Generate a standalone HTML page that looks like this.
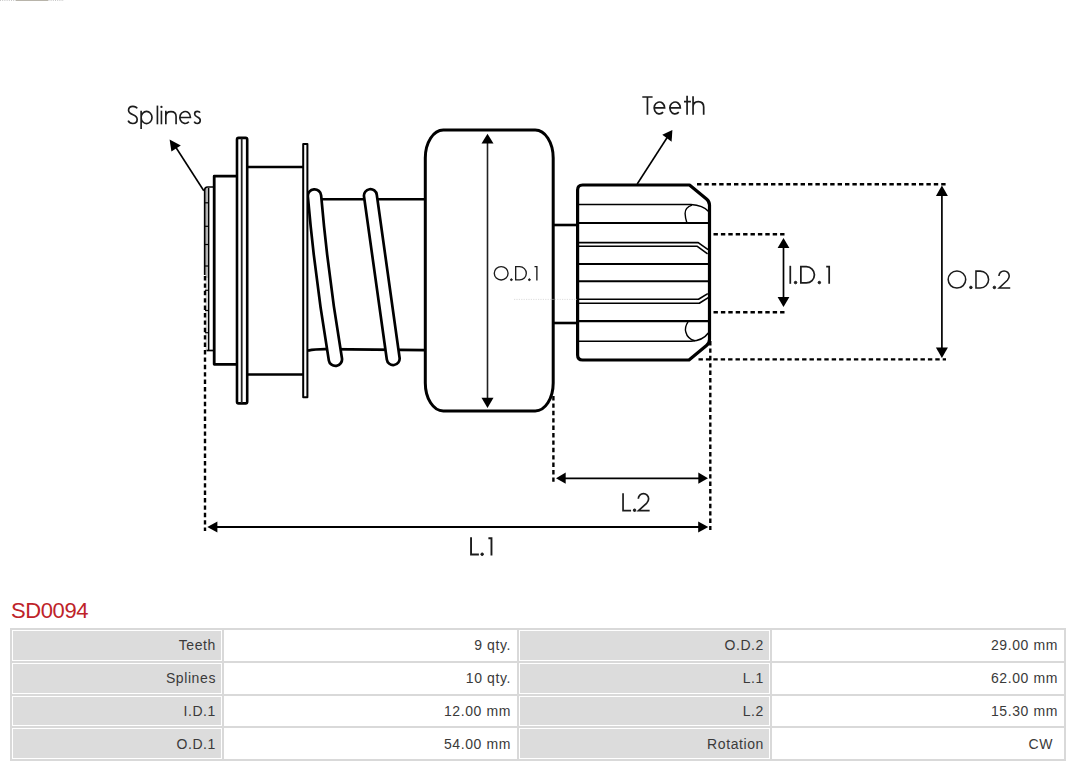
<!DOCTYPE html>
<html><head><meta charset="utf-8">
<style>
html,body{margin:0;padding:0;background:#fff;width:1080px;height:767px;overflow:hidden;}
body{position:relative;font-family:"Liberation Sans",sans-serif;}
#dia{position:absolute;left:0;top:0;}
#title{position:absolute;left:11px;top:599px;font-size:22px;letter-spacing:-0.4px;color:#be2329;line-height:24px;white-space:nowrap;}
table{position:absolute;left:10px;top:628px;width:1056px;border-collapse:separate;border-spacing:2px;background:#d9d9d9;table-layout:fixed;}
td{border:1px solid #fff;height:30.75px;padding:0 5px 0 0;text-align:right;font-size:14px;letter-spacing:0.6px;color:#3a3a3a;box-sizing:border-box;vertical-align:middle;white-space:nowrap;}
td.l{background:#dcdcdc;}
td.v{background:#fff;}
</style></head><body>
<svg id="dia" width="1080" height="590" viewBox="0 0 1080 590">
<line x1="0" y1="0.5" x2="64" y2="0.5" stroke="#c8c8c8" stroke-width="1" stroke-dasharray="1 1.2"/>
<line x1="16" y1="0.5" x2="48" y2="0.5" stroke="#b8b4aa" stroke-width="1"/>
<g fill="none" stroke="#000" stroke-linejoin="round">
  <!-- Splines arrow -->
  <line x1="203.8" y1="190.7" x2="175" y2="146" stroke-width="1.6"/>
  <polygon points="169.6,139.6 171.4,151.4 180.8,145.5" fill="#000" stroke="none"/>
  <!-- spline piece -->
  <rect x="205.4" y="188" width="2.6" height="90" fill="#b4b4b4" stroke="none"/>
  <rect x="205.4" y="278" width="2.6" height="72" fill="#d8d8d8" stroke="none"/>
  <path d="M213 187 H207.6 Q204.7 187 204.7 190 V275" stroke-width="1.7"/>
  <path d="M206.5 350.5 H213" stroke-width="1.7"/>
  <line x1="208.7" y1="188" x2="208.7" y2="350" stroke-width="1.4"/>
  <g stroke-width="1.2">
    <line x1="205" y1="202.8" x2="208.5" y2="202.8"/>
    <line x1="205" y1="226.3" x2="208.5" y2="226.3"/>
    <line x1="205" y1="244.5" x2="208.5" y2="244.5"/>
    <line x1="205" y1="266" x2="208.5" y2="266"/>
    <line x1="205" y1="290.3" x2="208.5" y2="290.3"/>
    <line x1="205" y1="310.5" x2="208.5" y2="310.5"/>
    <line x1="205" y1="332.7" x2="208.5" y2="332.7"/>
  </g>
  <!-- hub -->
  <path d="M236 176.2 H214.2 V364.3 H236" stroke-width="2.8"/>
  <!-- cylinder between flanges -->
  <line x1="248" y1="166.9" x2="303" y2="166.9" stroke-width="2.5"/>
  <line x1="248" y1="374.6" x2="303" y2="374.6" stroke-width="2.5"/>
  <!-- shaft -->
  <line x1="308" y1="199.3" x2="425" y2="199.3" stroke-width="2.6"/>
  <path d="M308 350.6 Q315 349.1 325 349.1 L425 350.2" stroke-width="2.8"/>
  <!-- spring coils -->
  <g stroke-linecap="round">
    <path d="M314.5 196 Q321.6 277.7 335.4 359.3" stroke-width="16"/>
    <path d="M314.5 196 Q321.6 277.7 335.4 359.3" stroke-width="10.6" stroke="#fff"/>
    <line x1="370.4" y1="195.6" x2="393.2" y2="358.6" stroke-width="15.6"/>
    <line x1="370.4" y1="195.6" x2="393.2" y2="358.6" stroke-width="10.2" stroke="#fff"/>
  </g>
  <!-- flange 1 -->
  <path d="M237 401.8 V139.5 Q237 137.9 238.6 137.9 H245.6 Q247.2 137.9 247.2 139.5 V401.8 Q247.2 403.4 245.6 403.4 H238.6 Q237 403.4 237 401.8 Z" fill="#fff" stroke-width="2.6"/>
  <line x1="241.7" y1="138.5" x2="241.7" y2="403" stroke-width="1.8" stroke="#222"/>
  <!-- flange 2 -->
  <rect x="303.2" y="143.9" width="4.2" height="253.3" fill="#fff" stroke-width="2"/>
  <!-- gear body -->
  <path d="M443.3 130 H535.2 A18 28 0 0 1 553.2 158 V383 A18 28 0 0 1 535.2 411 H443.3 A18 28 0 0 1 425.3 383 V158 A18 28 0 0 1 443.3 130 Z" stroke-width="3"/>
  <!-- neck -->
  <line x1="553" y1="225" x2="578" y2="225" stroke-width="2.6"/>
  <line x1="553" y1="323" x2="578" y2="323" stroke-width="2.6"/>
  <!-- pinion outline -->
  <path d="M577.6 190 Q577.6 185 582.6 185 H689.5 L706.5 199 Q709.5 201.5 709.5 205 V339.5 Q709.5 343 706.5 345.5 L689 360 H582.6 Q577.6 360 577.6 355 Z" stroke-width="3.2"/>
  <!-- teeth lines -->
  <path d="M579 204.6 H691 Q703 205.5 708.6 211.5" stroke-width="1.5"/>
  <path d="M692 205.2 C688 206.5 685 209.5 685.1 213.5 C685.2 217 686 220 686.8 222.5" stroke-width="1.4"/>
  <line x1="579" y1="223" x2="708" y2="223" stroke-width="2.2"/>
  <path d="M579 242.6 H698.2 L708.1 249.6" stroke-width="1.6"/>
  <path d="M579 246.3 H697.3 L707.6 253.8" stroke-width="1.6"/>
  <line x1="579" y1="264" x2="708" y2="264" stroke-width="1.9"/>
  <line x1="579" y1="281.2" x2="708" y2="281.2" stroke-width="1.9"/>
  <path d="M579 299.3 H698.5 L707.8 293.6" stroke-width="1.6"/>
  <path d="M579 303.3 H699.3 L708.3 297.6" stroke-width="1.6"/>
  <line x1="579" y1="321.2" x2="708" y2="321.2" stroke-width="2.3"/>
  <path d="M579 341.3 H691 Q703 340.5 708.3 333" stroke-width="1.5"/>
  <path d="M688 321.8 Q684.5 327 685.8 332 Q687.5 339 695 340.8" stroke-width="1.4"/>
  <!-- Teeth arrow -->
  <line x1="637.2" y1="184" x2="667.5" y2="137" stroke-width="1.6"/>
  <polygon points="672.4,130.1 662.3,134.8 671.6,141.8" fill="#000" stroke="none"/>
  <!-- O.D.1 arrow -->
  <line x1="487.5" y1="142" x2="487.5" y2="399" stroke-width="1.6" stroke="#222"/>
  <polygon points="487.5,133.8 481.5,143.5 493.5,143.5" fill="#000" stroke="none"/>
  <polygon points="487.5,408 481.5,397.8 493.5,397.8" fill="#000" stroke="none"/>
  <line x1="514" y1="299.4" x2="577" y2="299.4" stroke-width="0.8" stroke="#d4d4d4" stroke-dasharray="1.2 1.2"/>
  <!-- dashed extension lines -->
  <g stroke-width="2.4" stroke-dasharray="4.4 3">
    <line x1="205" y1="276" x2="205" y2="531"/>
    <line x1="553.4" y1="396" x2="553.4" y2="483"/>
    <line x1="710.3" y1="341" x2="710.3" y2="530"/>
    <line x1="697" y1="184.3" x2="946" y2="184.3"/>
    <line x1="698.5" y1="359.4" x2="946" y2="359.4"/>
    <line x1="713.5" y1="234.2" x2="786" y2="234.2"/>
    <line x1="713.5" y1="312.2" x2="786" y2="312.2"/>
  </g>
  <!-- L.1 arrow -->
  <line x1="215" y1="527" x2="700" y2="527" stroke-width="1.9"/>
  <polygon points="207.3,527 217.4,521.5 217.4,532.5" fill="#000" stroke="none"/>
  <polygon points="708.3,527 698.2,521.5 698.2,532.5" fill="#000" stroke="none"/>
  <!-- L.2 arrow -->
  <line x1="563" y1="478.3" x2="700" y2="478.3" stroke-width="1.7"/>
  <polygon points="556,478.2 565.7,472.6 565.7,483.8" fill="#000" stroke="none"/>
  <polygon points="708,478.2 698.3,472.6 698.3,483.8" fill="#000" stroke="none"/>
  <!-- I.D.1 arrow -->
  <line x1="783.5" y1="246" x2="783.5" y2="299" stroke-width="1.7"/>
  <polygon points="783.5,238 777.6,248 789.4,248" fill="#000" stroke="none"/>
  <polygon points="783.5,307.1 777.6,297 789.4,297" fill="#000" stroke="none"/>
  <!-- O.D.2 arrow -->
  <line x1="941.9" y1="193" x2="941.9" y2="350" stroke-width="1.7"/>
  <polygon points="941.9,185.5 935.9,196 947.9,196" fill="#000" stroke="none"/>
  <polygon points="941.9,358 935.9,347.5 947.9,347.5" fill="#000" stroke="none"/>
</g>
<!--LABELS-->
<g fill="none" stroke="#1c1c1c" stroke-linecap="butt" stroke-linejoin="miter">
<path transform="translate(127.6,124.3) scale(1.04)" stroke-width="1.587" d="M9.2,-15.2C8.5,-16.6 7.1,-17.2 5.1,-17.2C2.6,-17.2 0.9,-15.8 0.9,-13.4C0.9,-10.8 3.3,-9.9 5.2,-9.2C7.5,-8.3 9.2,-7.2 9.2,-4.6C9.2,-2 7.3,-0.8 5,-0.8C3,-0.8 1.3,-1.8 0.5,-3.5"/>
<path transform="translate(140.3,124.3) scale(1.04)" stroke-width="1.587" d="M0.7932692307692307,-13.1V4.5M0.7932692307692307,-6.55A5.1 5.7 0 1 1 11.25,-6.55A5.1 5.7 0 1 1 0.7932692307692307,-6.55"/>
<path transform="translate(156.6,124.3) scale(1.04)" stroke-width="1.587" d="M0.7932692307692307,-18V0"/>
<path transform="translate(160.6,124.3) scale(1.04)" stroke-width="1.587" d="M0.7932692307692307,-13.1V0"/>
<path transform="translate(165,124.3) scale(1.04)" stroke-width="1.587" d="M0.7932692307692307,-13.1V0M0.7932692307692307,-7.4C0.7932692307692307,-10.6 2.9,-12.25 5.75,-12.25C8.6,-12.25 10.65,-10.6 10.65,-7.4V0"/>
<path transform="translate(179,124.3) scale(1.04)" stroke-width="1.587" d="M0.8,-6.55H11A5.1 5.75 0 1 0 9.5,-2.5"/>
<path transform="translate(193.7,124.3) scale(1.04)" stroke-width="1.587" d="M6.1,-11.2C5.6,-12.2 4.7,-12.5 3.5,-12.5C1.9,-12.5 0.9,-11.6 0.9,-10C0.9,-8.3 2.5,-7.6 3.6,-7.1C5.1,-6.5 6.3,-5.7 6.3,-3.8C6.3,-1.9 4.9,-0.8 3.3,-0.8C2,-0.8 1,-1.4 0.5,-2.5"/>
<path transform="translate(642.3,114.7) scale(1.03)" stroke-width="1.650" d="M0,-17.174757281553397H10M5,-17.174757281553397V0"/>
<path transform="translate(653.3,114.7) scale(1.03)" stroke-width="1.650" d="M0.8,-6.55H11A5.1 5.75 0 1 0 9.5,-2.5"/>
<path transform="translate(669,114.7) scale(1.03)" stroke-width="1.650" d="M0.8,-6.55H11A5.1 5.75 0 1 0 9.5,-2.5"/>
<path transform="translate(684,114.7) scale(1.03)" stroke-width="1.650" d="M3,-18.3V0M0,-12.7H6.7"/>
<path transform="translate(692.2,114.7) scale(1.03)" stroke-width="1.650" d="M0.8252427184466019,-18V0M0.8252427184466019,-7.4C0.8252427184466019,-10.8 2.9,-12.6 5.9,-12.6C8.9,-12.6 11.15,-10.8 11.15,-7.4V0"/>
<path transform="translate(493.6,280.6) scale(0.81)" stroke-width="1.667" d="M0.8333333333333339,-9A8.516666666666666 8.316666666666666 0 1 1 17.866666666666667,-9A8.516666666666666 8.316666666666666 0 1 1 0.8333333333333334,-9Z"/>
<circle cx="511.39" cy="279.71" r="0.89" fill="#1c1c1c"/>
<path transform="translate(515,280.6) scale(0.81)" stroke-width="1.667" d="M0.8333333333333334,-17.166666666666668H5.800000000000001A8.166666666666666 8.166666666666666 0 0 1 5.800000000000001,-0.8333333333333334H0.8333333333333334Z"/>
<circle cx="529.39" cy="279.71" r="0.89" fill="#1c1c1c"/>
<path transform="translate(534.5,280.6) scale(0.81)" stroke-width="1.667" d="M0,-17.166666666666668H2.9333333333333336V0"/>
<path transform="translate(789.4,283.8) scale(1.0)" stroke-width="1.750" d="M0.875,-18V0"/>
<circle cx="795.55" cy="282.55" r="1.25" fill="#1c1c1c"/>
<path transform="translate(800,283.8) scale(1.0)" stroke-width="1.750" d="M0.875,-17.125H6.300000000000001A8.125 8.125 0 0 1 6.300000000000001,-0.875H0.875Z"/>
<circle cx="819.35" cy="282.55" r="1.25" fill="#1c1c1c"/>
<path transform="translate(826.2,283.8) scale(1.0)" stroke-width="1.750" d="M0,-17.125H2.975V0"/>
<path transform="translate(947.4,288.7) scale(1.02)" stroke-width="1.520" d="M0.7598039215686274,-9A8.590196078431372 8.390196078431373 0 1 1 17.94019607843137,-9A8.590196078431372 8.390196078431373 0 1 1 0.7598039215686274,-9Z"/>
<circle cx="970.88" cy="287.43" r="1.27" fill="#1c1c1c"/>
<path transform="translate(975.2,288.7) scale(1.02)" stroke-width="1.520" d="M0.7598039215686274,-17.240196078431374H4.9A8.240196078431373 8.240196078431373 0 0 1 4.9,-0.7598039215686274H0.7598039215686274Z"/>
<circle cx="994.38" cy="287.43" r="1.27" fill="#1c1c1c"/>
<path transform="translate(998,288.7) scale(1.02)" stroke-width="1.520" d="M0.9,-12.4A5.05 5.05 0 0 1 11,-12.4C11,-10.7 10.3,-9.5 9.2,-8.3L1.1,-0.7598039215686274H12"/>
<path transform="translate(622.2,511.5) scale(1.02)" stroke-width="1.667" d="M0.8333333333333333,-18V-0.8333333333333333H8.7"/>
<circle cx="634.57" cy="510.23" r="1.27" fill="#1c1c1c"/>
<path transform="translate(637.4,511.5) scale(1.02)" stroke-width="1.667" d="M0.9,-12.4A5.05 5.05 0 0 1 11,-12.4C11,-10.7 10.3,-9.5 9.2,-8.3L1.1,-0.8333333333333333H12"/>
<path transform="translate(470.1,555.5) scale(1.01)" stroke-width="1.881" d="M0.9405940594059405,-18V-0.9405940594059405H8.7"/>
<circle cx="482.16" cy="554.24" r="1.26" fill="#1c1c1c"/>
<path transform="translate(488.4,555.5) scale(1.01)" stroke-width="1.881" d="M0,-17.05940594059406H3.0405940594059406V0"/>
<circle cx="161.45" cy="106.9" r="1.15" fill="#1c1c1c" stroke="none"/>
</g>
<!--/LABELS-->
</svg>
<div id="title">SD0094</div>
<table>
<colgroup><col style="width:210px"><col style="width:293px"><col style="width:251px"><col style="width:292px"></colgroup>
<tr><td class="l">Teeth</td><td class="v">9 qty.</td><td class="l">O.D.2</td><td class="v">29.00 mm</td></tr>
<tr><td class="l">Splines</td><td class="v">10 qty.</td><td class="l">L.1</td><td class="v">62.00 mm</td></tr>
<tr><td class="l">I.D.1</td><td class="v">12.00 mm</td><td class="l">L.2</td><td class="v">15.30 mm</td></tr>
<tr><td class="l">O.D.1</td><td class="v">54.00 mm</td><td class="l">Rotation</td><td class="v" style="padding-right:10px">CW</td></tr>
</table>
</body></html>
